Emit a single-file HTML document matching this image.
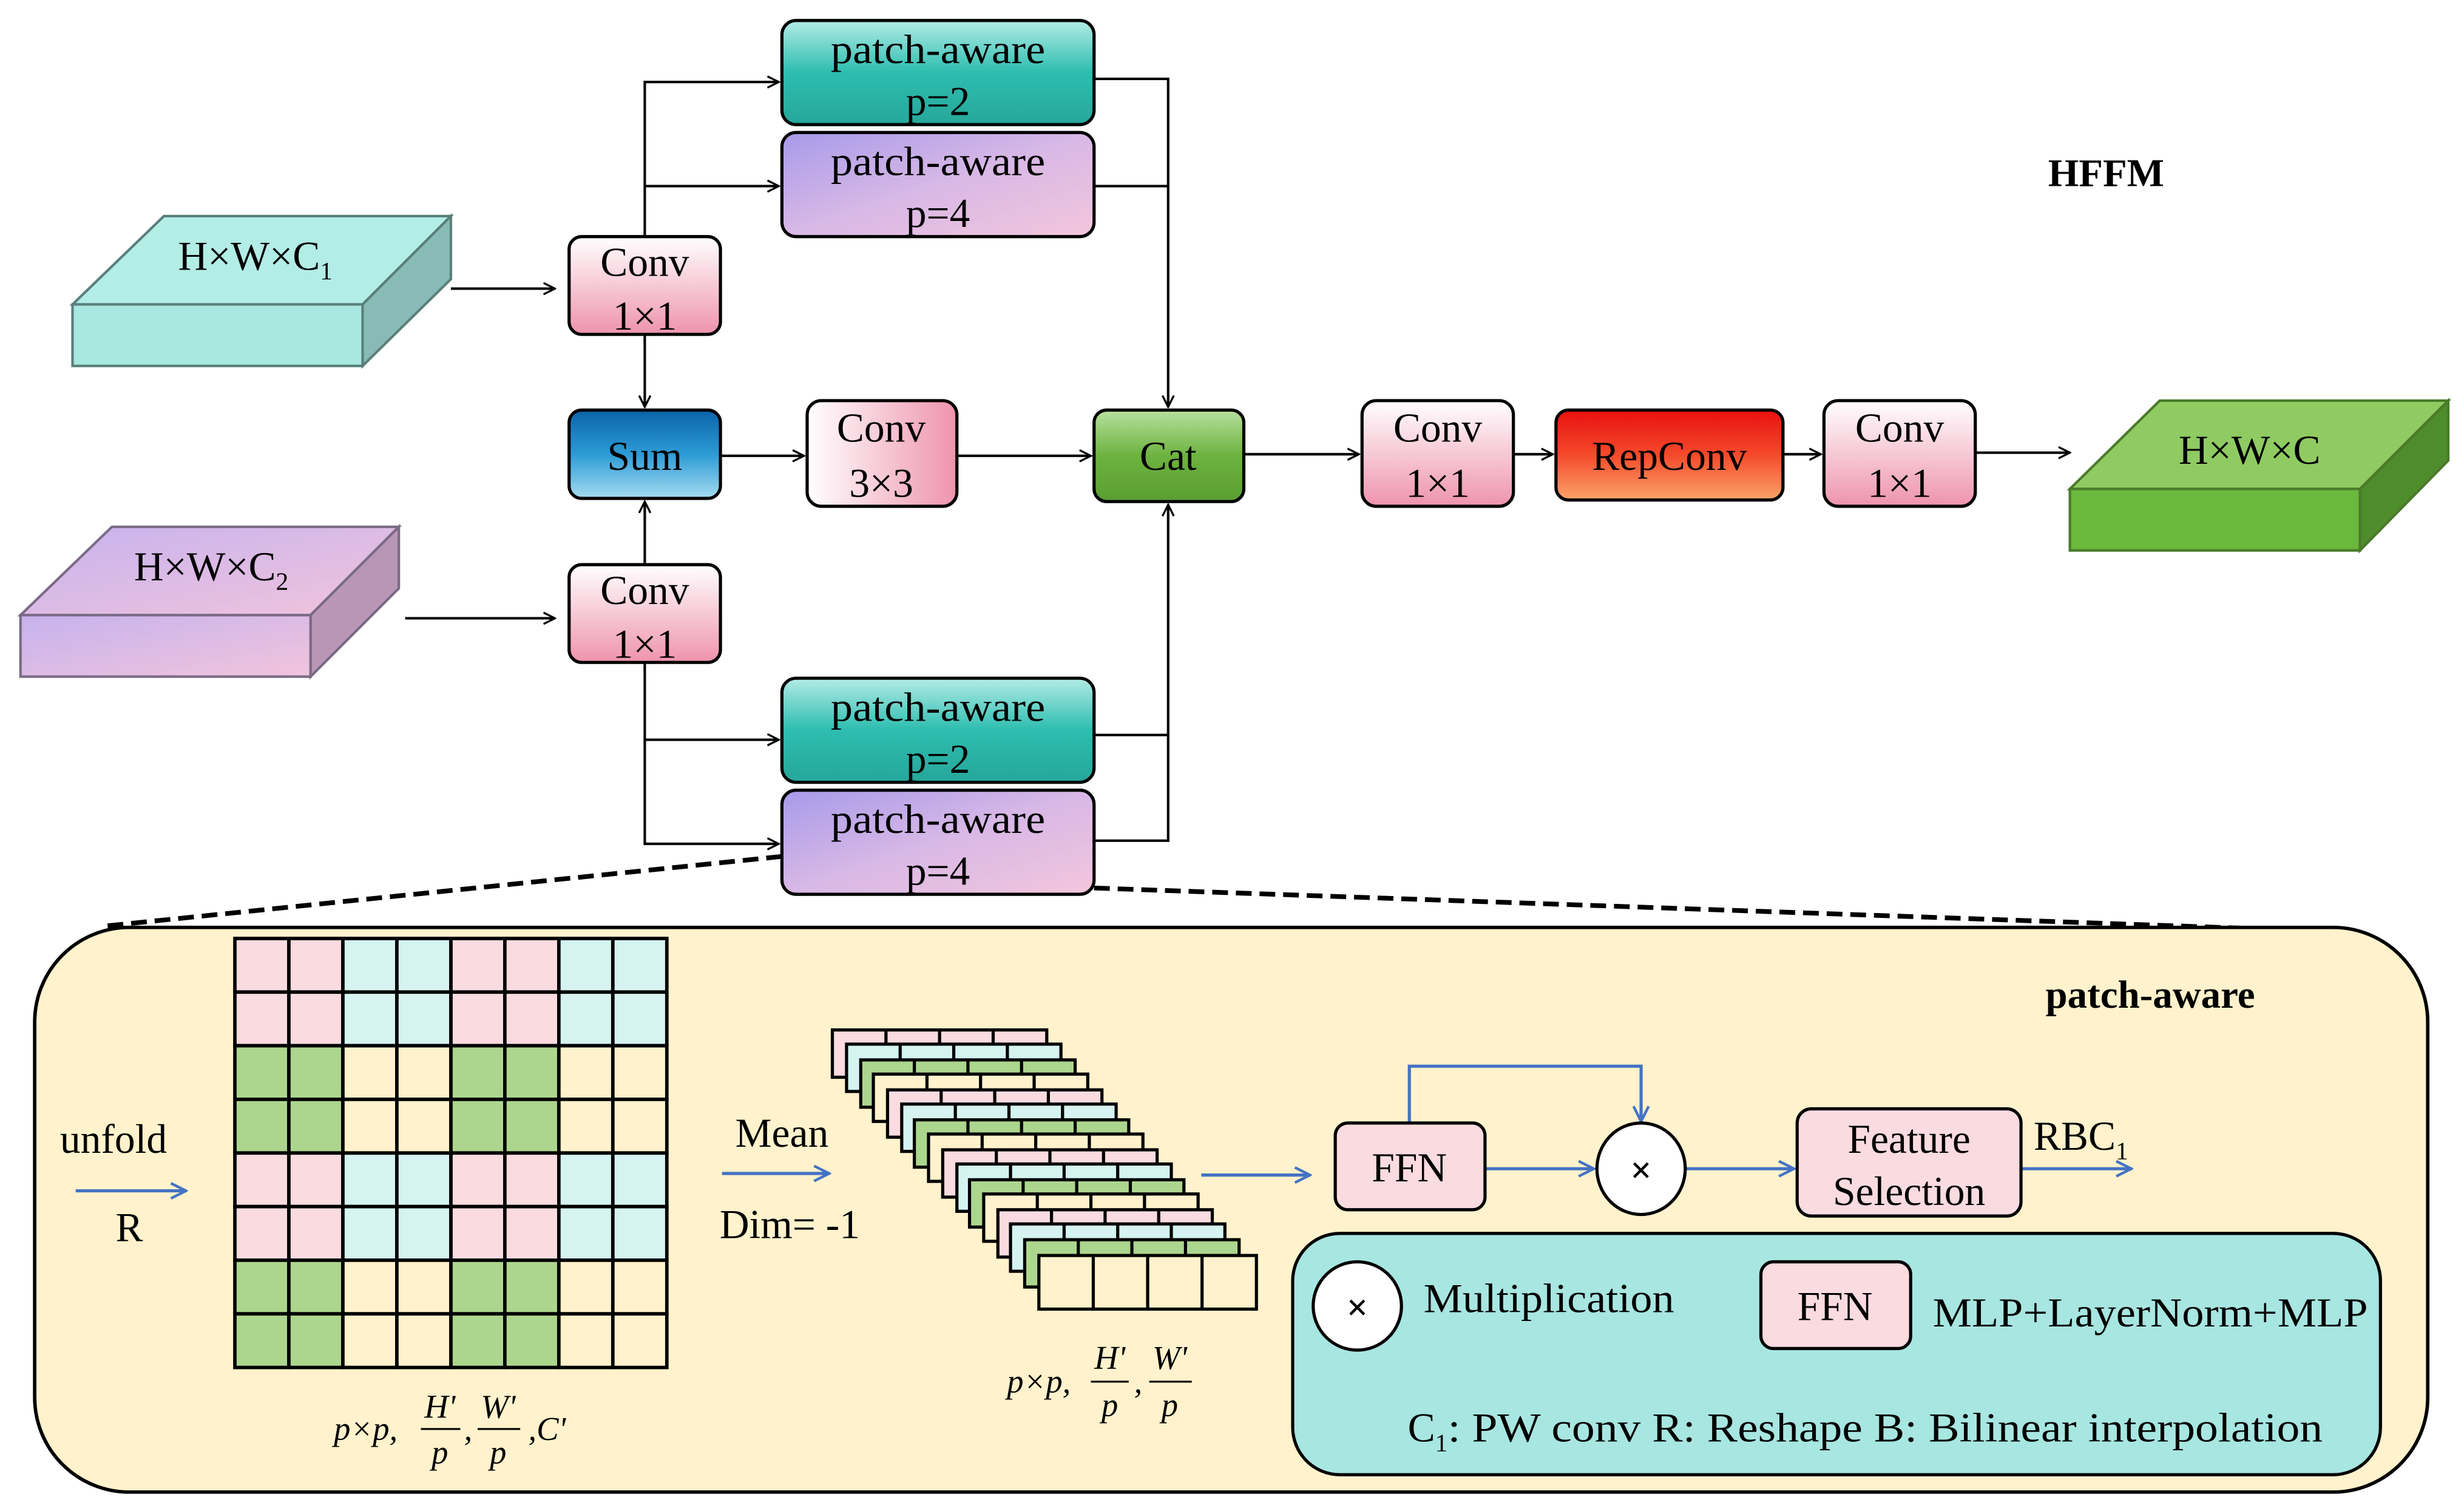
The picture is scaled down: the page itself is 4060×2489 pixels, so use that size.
<!DOCTYPE html>
<html><head><meta charset="utf-8"><style>html,body{margin:0;padding:0;background:#fff}svg{display:block}text{font-family:"Liberation Serif","DejaVu Serif",serif}</style></head><body>
<svg width="4060" height="2489" viewBox="0 0 1563 958" preserveAspectRatio="none" xmlns="http://www.w3.org/2000/svg">
<defs>
<marker id="a" viewBox="0 0 10 10" refX="9" refY="5" markerWidth="9" markerHeight="9" orient="auto" markerUnits="userSpaceOnUse"><path d="M1 1 L9 5 L1 9" fill="none" stroke="#000" stroke-width="1.4"/></marker>
<marker id="b" viewBox="0 0 10 10" refX="9" refY="5" markerWidth="12" markerHeight="12" orient="auto" markerUnits="userSpaceOnUse"><path d="M1 1 L9 5 L1 9" fill="none" stroke="#4472c4" stroke-width="1.4"/></marker>
<linearGradient id="teal" x1="0" y1="0" x2="0" y2="1"><stop offset="0" stop-color="#b3ece6"/><stop offset=".5" stop-color="#2dbdb0"/><stop offset="1" stop-color="#26a79a"/></linearGradient>
<linearGradient id="purp" x1="0" y1="0" x2="1" y2="1"><stop offset="0" stop-color="#a79aea"/><stop offset=".5" stop-color="#d8b8e6"/><stop offset="1" stop-color="#f3c6dc"/></linearGradient>
<linearGradient id="pinkv" x1="0" y1="0" x2="0" y2="1"><stop offset="0" stop-color="#fff"/><stop offset="1" stop-color="#ee93ad"/></linearGradient>
<linearGradient id="pinkh" x1="0" y1="0" x2="1" y2="0"><stop offset="0" stop-color="#fff"/><stop offset="1" stop-color="#ee93ad"/></linearGradient>
<linearGradient id="blue" x1="0" y1="0" x2="0" y2="1"><stop offset="0" stop-color="#0b63a8"/><stop offset=".5" stop-color="#2c9bd6"/><stop offset="1" stop-color="#a6dcf0"/></linearGradient>
<linearGradient id="green" x1="0" y1="0" x2="0" y2="1"><stop offset="0" stop-color="#b8e0a0"/><stop offset=".5" stop-color="#6db33f"/><stop offset="1" stop-color="#5a9e32"/></linearGradient>
<linearGradient id="red" x1="0" y1="0" x2="0" y2="1"><stop offset="0" stop-color="#e81010"/><stop offset=".5" stop-color="#f44a2a"/><stop offset="1" stop-color="#fba46a"/></linearGradient>
<linearGradient id="pc" x1="0" y1="0" x2="1" y2="1"><stop offset="0" stop-color="#c6b2ee"/><stop offset="1" stop-color="#f2c4dc"/></linearGradient>
</defs>
<g stroke="#000" stroke-width="1.6" fill="none">
<polygon points="46,193 104,137 286,137 230,193" fill="#b2ede6" stroke="#5a7f7a"/>
<polygon points="230,193 286,137 286,177 230,232" fill="#89bbb6" stroke="#5a7f7a"/>
<rect x="46" y="193" width="184" height="39" fill="#a9e8e1" stroke="#5a7f7a"/>
<polygon points="13,390 71,334 253,334 197,390" fill="url(#pc)" stroke="#7a6a86"/>
<polygon points="197,390 253,334 253,373 197,429" fill="#b996b6" stroke="#7a6a86"/>
<rect x="13" y="390" width="184" height="39" fill="url(#pc)" stroke="#7a6a86"/>
<polygon points="1313,310 1370,254 1553,254 1497,310" fill="#8fcb62" stroke="#4a7a2a"/>
<polygon points="1497,310 1553,254 1553,292 1497,349" fill="#4f8c2c" stroke="#4a7a2a"/>
<rect x="1313" y="310" width="184" height="39" fill="#6ab83c" stroke="#4a7a2a"/>

<rect x="496" y="13" width="198" height="66" rx="9" fill="url(#teal)" stroke-width="2"/>
<rect x="496" y="84" width="198" height="66" rx="9" fill="url(#purp)" stroke-width="2"/>
<rect x="496" y="430" width="198" height="66" rx="9" fill="url(#teal)" stroke-width="2"/>
<rect x="496" y="501" width="198" height="66" rx="9" fill="url(#purp)" stroke-width="2"/>
<rect x="361" y="150" width="96" height="62" rx="8" fill="url(#pinkv)" stroke-width="2"/>
<rect x="361" y="358" width="96" height="62" rx="8" fill="url(#pinkv)" stroke-width="2"/>
<rect x="361" y="260" width="96" height="56" rx="8" fill="url(#blue)" stroke-width="2"/>
<rect x="512" y="254" width="95" height="67" rx="9" fill="url(#pinkh)" stroke-width="2"/>
<rect x="694" y="260" width="95" height="58" rx="8" fill="url(#green)" stroke-width="2"/>
<rect x="864" y="254" width="96" height="67" rx="9" fill="url(#pinkv)" stroke-width="2"/>
<rect x="987" y="260" width="144" height="57" rx="8" fill="url(#red)" stroke-width="2"/>
<rect x="1157" y="254" width="96" height="67" rx="9" fill="url(#pinkv)" stroke-width="2"/>

<path d="M286 183 H352" marker-end="url(#a)"/>
<path d="M257 392 H352" marker-end="url(#a)"/>
<path d="M409 150 V52 H494" marker-end="url(#a)"/>
<path d="M409 118 H494" marker-end="url(#a)"/>
<path d="M409 212 V258" marker-end="url(#a)"/>
<path d="M409 358 V318" marker-end="url(#a)"/>
<path d="M409 420 V535 H494" marker-end="url(#a)"/>
<path d="M409 469 H494" marker-end="url(#a)"/>
<path d="M694 50 H741 V258" marker-end="url(#a)"/>
<path d="M694 118 H741"/>
<path d="M694 466 H741"/>
<path d="M694 533 H741 V320" marker-end="url(#a)"/>
<path d="M457 289 H510" marker-end="url(#a)"/>
<path d="M607 289 H692" marker-end="url(#a)"/>
<path d="M789 288 H862" marker-end="url(#a)"/>
<path d="M960 288 H985" marker-end="url(#a)"/>
<path d="M1131 288 H1155" marker-end="url(#a)"/>
<path d="M1253 287 H1313" marker-end="url(#a)"/>
<path d="M496 543 L68 587" stroke-width="3" stroke-dasharray="10,5"/>
<path d="M694 563 L1437 589" stroke-width="3" stroke-dasharray="10,5"/>

<rect x="22" y="588" width="1518" height="358" rx="60" fill="#fff2cc" stroke-width="2.2"/>
</g>

<g font-size="26" text-anchor="middle" fill="#000">
<text x="595" y="40" textLength="136" lengthAdjust="spacingAndGlyphs">patch-aware</text><text x="595" y="73">p=2</text>
<text x="595" y="111" textLength="136" lengthAdjust="spacingAndGlyphs">patch-aware</text><text x="595" y="144">p=4</text>
<text x="595" y="457" textLength="136" lengthAdjust="spacingAndGlyphs">patch-aware</text><text x="595" y="490">p=2</text>
<text x="595" y="528" textLength="136" lengthAdjust="spacingAndGlyphs">patch-aware</text><text x="595" y="561">p=4</text>
<text x="409" y="175">Conv</text><text x="409" y="209">1×1</text>
<text x="409" y="383">Conv</text><text x="409" y="417">1×1</text>
<text x="409" y="298">Sum</text>
<text x="559" y="280">Conv</text><text x="559" y="315">3×3</text>
<text x="741" y="298">Cat</text>
<text x="912" y="280">Conv</text><text x="912" y="315">1×1</text>
<text x="1059" y="298">RepConv</text>
<text x="1205" y="280">Conv</text><text x="1205" y="315">1×1</text>
<text x="162" y="171">H×W×C<tspan font-size="16" dy="6">1</tspan></text>
<text x="134" y="368">H×W×C<tspan font-size="16" dy="6">2</tspan></text>
<text x="1427" y="294">H×W×C</text>
<text x="1336" y="118" font-weight="bold" font-size="25">HFFM</text>
<text x="1364" y="639" font-weight="bold" font-size="25">patch-aware</text>
</g>

<g stroke="#000" stroke-width="2.2">
<g fill="#f9dbe0"><rect x="149" y="595" width="34.25" height="34"/><rect x="183.25" y="595" width="34.25" height="34"/><rect x="286" y="595" width="34.25" height="34"/><rect x="320.25" y="595" width="34.25" height="34"/>
<rect x="149" y="629" width="34.25" height="34"/><rect x="183.25" y="629" width="34.25" height="34"/><rect x="286" y="629" width="34.25" height="34"/><rect x="320.25" y="629" width="34.25" height="34"/>
<rect x="149" y="731" width="34.25" height="34"/><rect x="183.25" y="731" width="34.25" height="34"/><rect x="286" y="731" width="34.25" height="34"/><rect x="320.25" y="731" width="34.25" height="34"/>
<rect x="149" y="765" width="34.25" height="34"/><rect x="183.25" y="765" width="34.25" height="34"/><rect x="286" y="765" width="34.25" height="34"/><rect x="320.25" y="765" width="34.25" height="34"/></g>
<g fill="#d4f3f1"><rect x="217.5" y="595" width="34.25" height="34"/><rect x="251.75" y="595" width="34.25" height="34"/><rect x="354.5" y="595" width="34.25" height="34"/><rect x="388.75" y="595" width="34.25" height="34"/>
<rect x="217.5" y="629" width="34.25" height="34"/><rect x="251.75" y="629" width="34.25" height="34"/><rect x="354.5" y="629" width="34.25" height="34"/><rect x="388.75" y="629" width="34.25" height="34"/>
<rect x="217.5" y="731" width="34.25" height="34"/><rect x="251.75" y="731" width="34.25" height="34"/><rect x="354.5" y="731" width="34.25" height="34"/><rect x="388.75" y="731" width="34.25" height="34"/>
<rect x="217.5" y="765" width="34.25" height="34"/><rect x="251.75" y="765" width="34.25" height="34"/><rect x="354.5" y="765" width="34.25" height="34"/><rect x="388.75" y="765" width="34.25" height="34"/></g>
<g fill="#acd68e"><rect x="149" y="663" width="34.25" height="34"/><rect x="183.25" y="663" width="34.25" height="34"/><rect x="286" y="663" width="34.25" height="34"/><rect x="320.25" y="663" width="34.25" height="34"/>
<rect x="149" y="697" width="34.25" height="34"/><rect x="183.25" y="697" width="34.25" height="34"/><rect x="286" y="697" width="34.25" height="34"/><rect x="320.25" y="697" width="34.25" height="34"/>
<rect x="149" y="799" width="34.25" height="34"/><rect x="183.25" y="799" width="34.25" height="34"/><rect x="286" y="799" width="34.25" height="34"/><rect x="320.25" y="799" width="34.25" height="34"/>
<rect x="149" y="833" width="34.25" height="34"/><rect x="183.25" y="833" width="34.25" height="34"/><rect x="286" y="833" width="34.25" height="34"/><rect x="320.25" y="833" width="34.25" height="34"/></g>
<g fill="#fff2cc"><rect x="217.5" y="663" width="34.25" height="34"/><rect x="251.75" y="663" width="34.25" height="34"/><rect x="354.5" y="663" width="34.25" height="34"/><rect x="388.75" y="663" width="34.25" height="34"/>
<rect x="217.5" y="697" width="34.25" height="34"/><rect x="251.75" y="697" width="34.25" height="34"/><rect x="354.5" y="697" width="34.25" height="34"/><rect x="388.75" y="697" width="34.25" height="34"/>
<rect x="217.5" y="799" width="34.25" height="34"/><rect x="251.75" y="799" width="34.25" height="34"/><rect x="354.5" y="799" width="34.25" height="34"/><rect x="388.75" y="799" width="34.25" height="34"/>
<rect x="217.5" y="833" width="34.25" height="34"/><rect x="251.75" y="833" width="34.25" height="34"/><rect x="354.5" y="833" width="34.25" height="34"/><rect x="388.75" y="833" width="34.25" height="34"/></g>
</g>
<g stroke="#000" stroke-width="2">
<g transform="translate(528,653)"><rect width="136" height="30" fill="#f9dbe0"/><path d="M34 0V30M68 0V30M102 0V30"/></g>
<g transform="translate(537,662)"><rect width="136" height="30" fill="#d4f3f1"/><path d="M34 0V30M68 0V30M102 0V30"/></g>
<g transform="translate(546,672)"><rect width="136" height="30" fill="#acd68e"/><path d="M34 0V30M68 0V30M102 0V30"/></g>
<g transform="translate(554,681)"><rect width="136" height="30" fill="#fff2cc"/><path d="M34 0V30M68 0V30M102 0V30"/></g>
<g transform="translate(563,691)"><rect width="136" height="30" fill="#f9dbe0"/><path d="M34 0V30M68 0V30M102 0V30"/></g>
<g transform="translate(572,700)"><rect width="136" height="30" fill="#d4f3f1"/><path d="M34 0V30M68 0V30M102 0V30"/></g>
<g transform="translate(580,710)"><rect width="136" height="30" fill="#acd68e"/><path d="M34 0V30M68 0V30M102 0V30"/></g>
<g transform="translate(589,719)"><rect width="136" height="30" fill="#fff2cc"/><path d="M34 0V30M68 0V30M102 0V30"/></g>
<g transform="translate(598,729)"><rect width="136" height="30" fill="#f9dbe0"/><path d="M34 0V30M68 0V30M102 0V30"/></g>
<g transform="translate(607,738)"><rect width="136" height="30" fill="#d4f3f1"/><path d="M34 0V30M68 0V30M102 0V30"/></g>
<g transform="translate(615,748)"><rect width="136" height="30" fill="#acd68e"/><path d="M34 0V30M68 0V30M102 0V30"/></g>
<g transform="translate(624,757)"><rect width="136" height="30" fill="#fff2cc"/><path d="M34 0V30M68 0V30M102 0V30"/></g>
<g transform="translate(633,767)"><rect width="136" height="30" fill="#f9dbe0"/><path d="M34 0V30M68 0V30M102 0V30"/></g>
<g transform="translate(641,776)"><rect width="136" height="30" fill="#d4f3f1"/><path d="M34 0V30M68 0V30M102 0V30"/></g>
<g transform="translate(650,786)"><rect width="136" height="30" fill="#acd68e"/><path d="M34 0V30M68 0V30M102 0V30"/></g>
<g transform="translate(659,796)"><rect width="138" height="34" fill="#fff2cc"/><path d="M34.5 0V34M69 0V34M103.5 0V34"/></g>
</g>

<g stroke="#4472c4" stroke-width="2" fill="none">
<path d="M48 755 H118" marker-end="url(#b)"/>
<path d="M458 744 H526" marker-end="url(#b)"/>
<path d="M762 745 H831" marker-end="url(#b)"/>
<path d="M942 741 H1011" marker-end="url(#b)"/>
<path d="M1069 741 H1138" marker-end="url(#b)"/>
<path d="M1282 741 H1352" marker-end="url(#b)"/>
<path d="M894 712 V676 H1041 V711" marker-end="url(#b)"/>
</g>
<g stroke="#000" stroke-width="2">
<rect x="847" y="712" width="95" height="55" rx="8" fill="#f9dbe0"/>
<ellipse cx="1041" cy="741" rx="28" ry="29" fill="#fff"/>
<rect x="1140" y="703" width="142" height="68" rx="9" fill="#f9dbe0"/>
<rect x="820" y="782" width="690" height="153" rx="30" fill="#a8e6e1"/>
<ellipse cx="861" cy="828" rx="28" ry="28" fill="#fff"/>
<rect x="1117" y="800" width="95" height="55" rx="8" fill="#f9dbe0"/>
</g>
<g font-size="26" fill="#000">
<text x="72" y="731" text-anchor="middle">unfold</text>
<text x="82" y="787" text-anchor="middle">R</text>
<text x="496" y="727" text-anchor="middle">Mean</text>
<text x="501" y="785" text-anchor="middle">Dim= -1</text>
<text x="894" y="749" text-anchor="middle">FFN</text>
<text x="1041" y="750" text-anchor="middle" font-weight="bold" font-size="24">×</text>
<text x="1211" y="731" text-anchor="middle">Feature</text>
<text x="1211" y="764" text-anchor="middle">Selection</text>
<text x="1290" y="729">RBC<tspan font-size="16" dy="6">1</tspan></text>
<text x="861" y="837" text-anchor="middle" font-weight="bold" font-size="24">×</text>
<text x="903" y="832" textLength="159" lengthAdjust="spacingAndGlyphs">Multiplication</text>
<text x="1164" y="837" text-anchor="middle">FFN</text>
<text x="1226" y="841" textLength="276" lengthAdjust="spacingAndGlyphs">MLP+LayerNorm+MLP</text>
<text x="893" y="914">C<tspan font-size="16" dy="6">1</tspan><tspan dy="-6" textLength="555" lengthAdjust="spacingAndGlyphs">: PW conv  R: Reshape  B: Bilinear interpolation</tspan></text>
</g>
<g font-size="21" font-style="italic" fill="#000" text-anchor="middle">
<text x="232" y="913">p×p,</text>
<text x="279" y="899">H'</text><path d="M267 906 H292" stroke="#000" stroke-width="1.2"/><text x="279" y="928">p</text>
<text x="297" y="913">,</text>
<text x="316" y="899">W'</text><path d="M303 906 H330" stroke="#000" stroke-width="1.2"/><text x="316" y="928">p</text>
<text x="347" y="913">,C'</text>
<text x="659" y="883">p×p,</text>
<text x="704" y="868">H'</text><path d="M692 876 H716" stroke="#000" stroke-width="1.2"/><text x="704" y="898">p</text>
<text x="722" y="883">,</text>
<text x="742" y="868">W'</text><path d="M729 876 H756" stroke="#000" stroke-width="1.2"/><text x="742" y="898">p</text>
</g>
</svg>
</body></html>
